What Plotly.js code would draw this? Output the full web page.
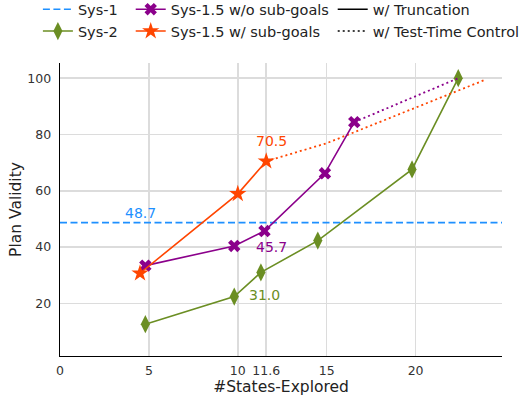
<!DOCTYPE html>
<html>
<head>
<meta charset="utf-8">
<script src="https://cdn.plot.ly/plotly-3.0.1.min.js"></script>
<style>
  html, body { margin: 0; padding: 0; background: #fff; }
  #chart { width: 520px; height: 396px; }
</style>
</head>
<body>
<div id="chart"></div>
<script>
// Plan validity against number of explored states
const statesSys2 = [4.8, 9.8, 11.3, 14.5, 19.8, 22.4];
const validitySys2 = [12.6, 22.4, 31.0, 42.3, 67.6, 100];

const statesNoSub = [4.8, 9.8, 11.5, 14.9, 16.55];
const validityNoSub = [33.4, 40.4, 45.7, 66.2, 84.4];
const statesNoSubCtrl = [16.55, 22.4];
const validityNoSubCtrl = [84.4, 100];

const statesSub = [4.5, 10.0, 11.6];
const validitySub = [30.7, 58.9, 70.5];
const statesSubCtrl = [11.6, 15, 23.9];
const validitySubCtrl = [70.5, 76.9, 99.4];

const sys1Validity = 48.7;

const xTickVals = [0, 5, 10, 11.6, 15, 20];
const xTickText = ['0', '5', '10', '11.6', '15', '20'];
const yTickVals = [20, 40, 60, 80, 100];

const xRange = [0, 24.86];
const yRange = [1.3, 105.4];

const C_SYS1 = '#1E90FF';
const C_SYS2 = '#6B8E23';
const C_NOSUB = '#8B008B';
const C_SUB = '#FF4500';
const FONT = 'DejaVu Sans, sans-serif';
const DOT = '2px,3px';

const traces = [
  {
    x: xRange, y: [sys1Validity, sys1Validity], name: 'Sys-1', mode: 'lines',
    line: { color: C_SYS1, width: 1.6, dash: '7px,3.5px' }, legend: 'legend'
  },
  {
    x: statesSys2, y: validitySys2, name: 'Sys-2', mode: 'lines+markers',
    line: { color: C_SYS2, width: 1.6 },
    marker: { symbol: 'diamond-tall', size: 13, color: C_SYS2 }, legend: 'legend'
  },
  {
    x: statesNoSubCtrl, y: validityNoSubCtrl, mode: 'lines', showlegend: false,
    line: { color: C_NOSUB, width: 1.8, dash: DOT }
  },
  {
    x: statesSubCtrl, y: validitySubCtrl, mode: 'lines', showlegend: false,
    line: { color: C_SUB, width: 1.8, dash: DOT }
  },
  {
    x: statesNoSub, y: validityNoSub, name: 'Sys-1.5 w/o sub-goals', mode: 'lines+markers',
    line: { color: C_NOSUB, width: 1.6 },
    marker: { symbol: 'x', size: 11, color: C_NOSUB }, legend: 'legend2'
  },
  {
    x: statesSub, y: validitySub, name: 'Sys-1.5 w/ sub-goals', mode: 'lines+markers',
    line: { color: C_SUB, width: 1.6 },
    marker: { symbol: 'star', size: 13, color: C_SUB }, legend: 'legend2'
  },
  {
    x: [null], y: [null], name: 'w/ Truncation', mode: 'lines',
    line: { color: '#000', width: 1.6 }, legend: 'legend3'
  },
  {
    x: [null], y: [null], name: 'w/ Test-Time Control', mode: 'lines',
    line: { color: '#000', width: 1.6, dash: DOT }, legend: 'legend3'
  }
];

function valueLabel(x, y, text, color, dx, dy) {
  return {
    x: x, y: y, text: text, showarrow: false, xshift: dx, yshift: dy,
    font: { family: FONT, size: 14, color: color }
  };
}

const annotations = [
  valueLabel(statesSub[0], sys1Validity, sys1Validity.toFixed(1), C_SYS1, 0, 10),
  valueLabel(statesSub[2], validitySub[2], validitySub[2].toFixed(1), C_SUB, 5, 20),
  valueLabel(statesNoSub[2], validityNoSub[2], validityNoSub[2].toFixed(1), C_NOSUB, 7, -16),
  valueLabel(statesSys2[2], validitySys2[2], validitySys2[2].toFixed(1), C_SYS2, 4, -23)
];

const legendBase = {
  orientation: 'v', xref: 'paper', yref: 'paper', yanchor: 'top', xanchor: 'left',
  y: 1.238, bgcolor: 'rgba(0,0,0,0)', font: { family: FONT, size: 14.5, color: '#222' },
  tracegroupgap: 0, itemwidth: 30
};

const layout = {
  width: 520, height: 396,
  margin: { l: 60, r: 18, t: 63, b: 40, autoexpand: false },
  paper_bgcolor: '#fff', plot_bgcolor: '#fff',
  font: { family: FONT, color: '#333' },
  showlegend: true,
  legend: Object.assign({}, legendBase, { x: -0.05 }),
  legend2: Object.assign({}, legendBase, { x: 0.16 }),
  legend3: Object.assign({}, legendBase, { x: 0.617 }),
  xaxis: {
    range: xRange, tickmode: 'array', tickvals: xTickVals, ticktext: xTickText,
    showgrid: true, gridcolor: '#dcdcdc', gridwidth: 1.5, zeroline: false,
    showline: true, linecolor: '#000', linewidth: 1.3, ticks: '', ticklabelstandoff: 3,
    tickfont: { family: FONT, size: 12.5, color: '#333' },
    title: { text: '#States-Explored', font: { family: FONT, size: 15.5, color: '#222' }, standoff: 4 }
  },
  yaxis: {
    range: yRange, tickmode: 'array', tickvals: yTickVals,
    showgrid: true, gridcolor: '#dcdcdc', gridwidth: 1.5, zeroline: false,
    showline: true, linecolor: '#000', linewidth: 1.3, ticks: '', ticklabelstandoff: 5,
    tickfont: { family: FONT, size: 12.5, color: '#333' },
    title: { text: 'Plan Validity', font: { family: FONT, size: 15.5, color: '#222' }, standoff: 2 }
  },
  annotations: annotations
};

Plotly.newPlot('chart', traces, layout, { staticPlot: true, displayModeBar: false });
</script>
</body>
</html>
